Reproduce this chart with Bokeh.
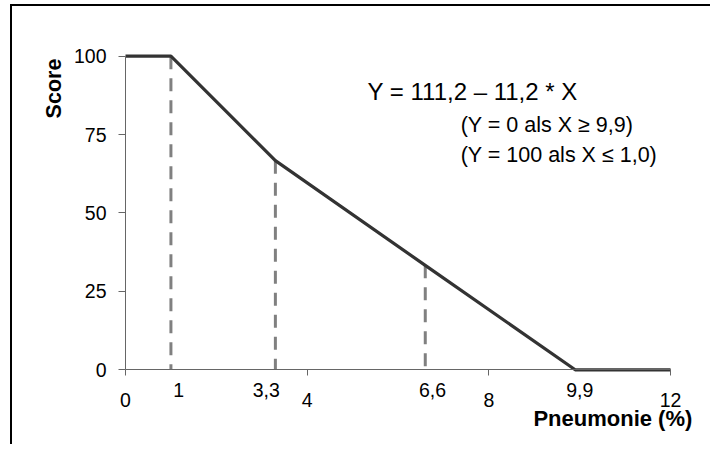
from bokeh.plotting import figure
from bokeh.models import Range1d, FixedTicker, Label
from bokeh.embed import file_html
from bokeh.resources import INLINE

# ---- data ----
line_x = [0, 1, 3.3, 6.6, 9.9, 12]
line_y = [100, 100, 66.7, 33.3, 0, 0]
drop_x = [1, 3.3, 6.6]
drop_y = [100, 66.7, 33.3]
x_ticks = [0, 4, 8, 12]
y_ticks = [0, 25, 50, 75, 100]
extra_labels = ["1", "3,3", "6,6", "9,9"]
extra_label_x = [1.17, 3.1, 6.76, 10.0]
equation = "Y = 111,2 – 11,2 * X"
cond1 = "(Y = 0 als X ≥ 9,9)"
cond2 = "(Y = 100 als X ≤ 1,0)"
x_title = "Pneumonie (%)"
y_title = "Score"

FONT = "Liberation Sans"

# frame covers the whole canvas; axes are pinned at x=0 / y=0
p = figure(width=700, height=440, output_backend="svg", toolbar_location=None,
           x_range=Range1d(-2.488, 12.924), y_range=Range1d(-24.46, 115.85),
           min_border_left=0, min_border_right=0, min_border_top=0, min_border_bottom=0)
p.styles = {"border-top": "2px solid black", "border-left": "2px solid black",
            "margin-top": "4px", "margin-left": "10px"}
p.outline_line_color = None
p.xgrid.visible = False
p.ygrid.visible = False
p.background_fill_color = "white"
p.border_fill_color = "white"

for ax in (p.xaxis[0], p.yaxis[0]):
    ax.fixed_location = 0
    ax.axis_line_color = "#666666"
    ax.axis_line_width = 1
    ax.major_tick_line_color = "#666666"
    ax.major_tick_in = 0
    ax.minor_tick_line_color = None
    ax.major_label_text_font = FONT
    ax.major_label_text_font_size = "19.5px"
    ax.major_label_text_color = "black"

p.xaxis[0].ticker = FixedTicker(ticks=x_ticks)
p.xaxis[0].bounds = (0, 12)
p.xaxis[0].major_tick_out = 6
p.xaxis[0].major_label_standoff = 17

p.yaxis[0].ticker = FixedTicker(ticks=y_ticks)
p.yaxis[0].bounds = (0, 100)
p.yaxis[0].major_tick_out = 7
p.yaxis[0].major_label_standoff = 12

# dashed drop lines
p.segment(x0=drop_x, y0=drop_y, x1=drop_x, y1=[0] * len(drop_x),
          line_color="#808080", line_width=3, line_dash="13 9")

# main curve
p.line(line_x, line_y, line_color="#333333", line_width=3.2)

# extra x labels
for t, xx in zip(extra_labels, extra_label_x):
    p.add_layout(Label(x=xx, y=-6.6, text=t, text_align="center", text_baseline="alphabetic",
                       text_font=FONT, text_font_size="19.5px", text_color="black"))

# axis titles
p.add_layout(Label(x=12.48, y=-15.6, text=x_title, text_align="right", text_baseline="alphabetic",
                   text_font=FONT, text_font_size="22px", text_font_style="bold",
                   text_color="black"))
p.add_layout(Label(x=-1.58, y=89.7, text=y_title, angle=1.5708, text_align="center",
                   text_baseline="middle", text_font=FONT, text_font_size="21.5px",
                   text_font_style="bold", text_color="black"))

# equation texts
p.add_layout(Label(x=5.33, y=88.7, text=equation, text_align="left", text_baseline="alphabetic",
                   text_font=FONT, text_font_size="24px", text_color="black"))
p.add_layout(Label(x=7.38, y=78.1, text=cond1, text_align="left", text_baseline="alphabetic",
                   text_font=FONT, text_font_size="21.5px", text_color="black"))
p.add_layout(Label(x=7.38, y=68.6, text=cond2, text_align="left", text_baseline="alphabetic",
                   text_font=FONT, text_font_size="21.5px", text_color="black"))

open("out.html", "w").write(file_html(p, INLINE))
